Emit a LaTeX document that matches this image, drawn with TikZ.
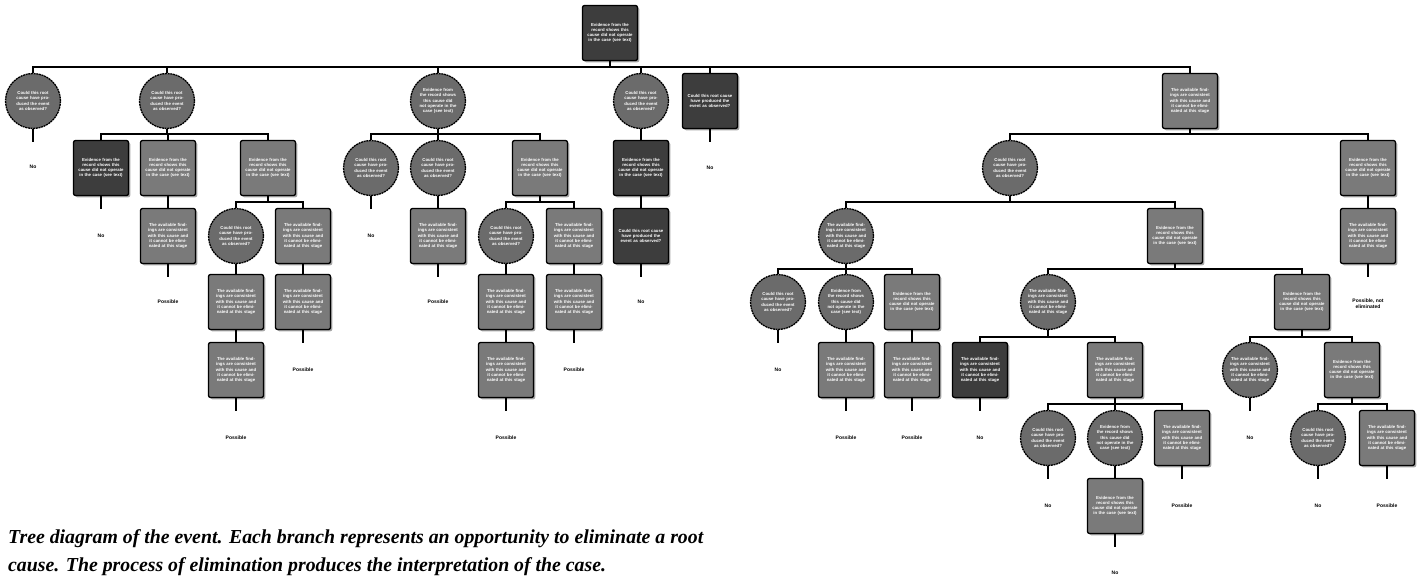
\documentclass[tikz,border=0pt]{standalone}
\usepackage{fontspec}
\setmainfont{Liberation Serif}
\setsansfont{Liberation Sans}
\usetikzlibrary{shadows}
\newcommand\tq{Could this root cause have produced the event as observed?}
\newcommand\tf{Evidence from the record shows this cause did not operate in the case (see text)}
\newcommand\tl{The available findings are consistent with this cause and it cannot be eliminated at this stage}
\newcommand\kid[3]{\draw[edge] (#1.south) -- (#1.south |- #3) -| (#2.north);}
\newcommand\one[2]{\draw[edge] (#1.south) -- (#2.north);}
\newcommand\lf[1]{\draw[edge] (#1.south) -- ++(0,13);}
\tikzset{
  x=1pt,y=-1pt,
  nbase/.style={text=white, font=\fontsize{4.3}{5.2}\selectfont\bfseries\sffamily, align=center, inner sep=0pt},
  circ/.style={nbase, circle, draw=black, line width=1.3pt, fill=black!58, minimum size=55pt, text width=42pt, dash pattern=on 2pt off 0.7pt},
  box/.style={nbase, rectangle, rounded corners=2pt, draw=black, line width=1.3pt, fill=black!52, minimum width=55pt, minimum height=55pt, text width=47pt, drop shadow={shadow xshift=1.8pt, shadow yshift=-1.8pt, fill=black, opacity=0.35}},
  dbox/.style={box, fill=black!76},
  edge/.style={draw=black, line width=1.2pt},
  leaf/.style={font=\fontsize{5}{6}\selectfont\bfseries\sffamily, inner sep=0pt, align=center},
  captext/.style={font=\fontsize{19.8}{28}\selectfont\bfseries\itshape, inner sep=0pt, anchor=base west},
}
\begin{document}
\begin{tikzpicture}
\useasboundingbox (0,0) rectangle (1419,583);
\fill[white] (0,0) rectangle (1419,583);
\coordinate (L1) at (0,67);
\coordinate (L2) at (0,134);
\coordinate (L3) at (0,202);
\coordinate (L4) at (0,269);
\coordinate (L5) at (0,337);
\coordinate (L6) at (0,404);

% root
\node[dbox] (R) at (610,33) {\tf};
% level 1
\node[circ] (A) at (33,101) {\tq};
\node[circ] (B) at (167,101) {\tq};
\node[circ] (C) at (438,101) {\tf};
\node[circ] (D) at (641,101) {\tq};
\node[dbox] (E) at (710,101) {\tq};
\node[box]  (F) at (1190,101) {\tl};
\foreach \c in {A,B,C,D,E,F} {\kid{R}{\c}{L1}}

% A
\lf{A}
\node[leaf] (lA) at (33,167) {No};

% B subtree
\node[dbox] (B1) at (101,168) {\tf};
\node[box]  (B2) at (168,168) {\tf};
\node[box]  (B3) at (268,168) {\tf};
\foreach \c in {B1,B2,B3} {\kid{B}{\c}{L2}}
\lf{B1} \node[leaf] (lB1) at (101,236) {No};
\node[box] (B2a) at (168,236) {\tl};
\one{B2}{B2a}
\lf{B2a} \node[leaf] (lB2) at (168,302) {Possible};
\node[circ] (B3a) at (236,236) {\tq};
\node[box]  (B3b) at (303,236) {\tl};
\kid{B3}{B3a}{L3} \kid{B3}{B3b}{L3}
\node[box] (B3a1) at (236,302) {\tl};
\node[box] (B3a2) at (236,370) {\tl};
\one{B3a}{B3a1} \one{B3a1}{B3a2}
\lf{B3a2} \node[leaf] (lB3a) at (236,438) {Possible};
\node[box] (B3b1) at (303,302) {\tl};
\one{B3b}{B3b1}
\lf{B3b1} \node[leaf] (lB3b) at (303,370) {Possible};

% C subtree
\node[circ] (C1) at (371,168) {\tq};
\node[circ] (C2) at (438,168) {\tq};
\node[box]  (C3) at (540,168) {\tf};
\foreach \c in {C1,C2,C3} {\kid{C}{\c}{L2}}
\lf{C1} \node[leaf] (lC1) at (371,236) {No};
\node[box] (C2a) at (438,236) {\tl};
\one{C2}{C2a}
\lf{C2a} \node[leaf] (lC2) at (438,302) {Possible};
\node[circ] (C3a) at (506,236) {\tq};
\node[box]  (C3b) at (574,236) {\tl};
\kid{C3}{C3a}{L3} \kid{C3}{C3b}{L3}
\node[box] (C3a1) at (506,302) {\tl};
\node[box] (C3a2) at (506,370) {\tl};
\one{C3a}{C3a1} \one{C3a1}{C3a2}
\lf{C3a2} \node[leaf] (lC3a) at (506,438) {Possible};
\node[box] (C3b1) at (574,302) {\tl};
\one{C3b}{C3b1}
\lf{C3b1} \node[leaf] (lC3b) at (574,370) {Possible};

% D subtree
\node[dbox] (D1) at (641,168) {\tf};
\node[dbox] (D2) at (641,236) {\tq};
\one{D}{D1} \one{D1}{D2}
\lf{D2} \node[leaf] (lD) at (641,302) {No};

% E
\lf{E} \node[leaf] (lE) at (710,168) {No};

% F subtree
\node[circ] (F1) at (1010,168) {\tq};
\node[box]  (F2) at (1368,168) {\tf};
\kid{F}{F1}{L2} \kid{F}{F2}{L2}
\node[box] (F2a) at (1368,236) {\tl};
\one{F2}{F2a}
\lf{F2a} \node[leaf] (lF2) at (1368,304) {Possible, not\\eliminated};

\node[circ] (G) at (846,236) {\tl};
\node[box]  (H) at (1175,236) {\tf};
\kid{F1}{G}{L3} \kid{F1}{H}{L3}

\node[circ] (G1) at (778,302) {\tq};
\node[circ] (G2) at (846,302) {\tf};
\node[box]  (G3) at (912,302) {\tf};
\foreach \c in {G1,G2,G3} {\kid{G}{\c}{L4}}
\lf{G1} \node[leaf] (lG1) at (778,370) {No};
\node[box] (G2a) at (846,370) {\tl};
\one{G2}{G2a}
\lf{G2a} \node[leaf] (lG2) at (846,438) {Possible};
\node[box] (G3a) at (912,370) {\tl};
\one{G3}{G3a}
\lf{G3a} \node[leaf] (lG3) at (912,438) {Possible};

\node[circ] (H1) at (1048,302) {\tl};
\node[box]  (H2) at (1302,302) {\tf};
\kid{H}{H1}{L4} \kid{H}{H2}{L4}

\node[dbox] (H1a) at (980,370) {\tl};
\node[box]  (H1b) at (1115,370) {\tl};
\kid{H1}{H1a}{L5} \kid{H1}{H1b}{L5}
\lf{H1a} \node[leaf] (lH1a) at (980,438) {No};

\node[circ] (K1) at (1048,438) {\tq};
\node[circ] (K2) at (1115,438) {\tf};
\node[box]  (K3) at (1182,438) {\tl};
\foreach \c in {K1,K2,K3} {\kid{H1b}{\c}{L6}}
\lf{K1} \node[leaf] (lK1) at (1048,506) {No};
\node[box] (K2a) at (1115,506) {\tf};
\one{K2}{K2a}
\lf{K2a} \node[leaf] (lK2) at (1115,573) {No};
\lf{K3} \node[leaf] (lK3) at (1182,506) {Possible};

\node[circ] (M1) at (1250,370) {\tl};
\node[box]  (M2) at (1352,370) {\tf};
\kid{H2}{M1}{L5} \kid{H2}{M2}{L5}
\lf{M1} \node[leaf] (lM1) at (1250,438) {No};

\node[circ] (N1) at (1318,438) {\tq};
\node[box]  (N2) at (1387,438) {\tl};
\kid{M2}{N1}{L6} \kid{M2}{N2}{L6}
\lf{N1} \node[leaf] (lN1) at (1318,506) {No};
\lf{N2} \node[leaf] (lN2) at (1387,506) {Possible};

% caption
\node[captext] (cap1) at (8,543) {Tree diagram of the event. Each branch represents an opportunity to eliminate a root};
\node[captext] (cap2) at (8,571) {cause. The process of elimination produces the interpretation of the case.};
\end{tikzpicture}
\end{document}
